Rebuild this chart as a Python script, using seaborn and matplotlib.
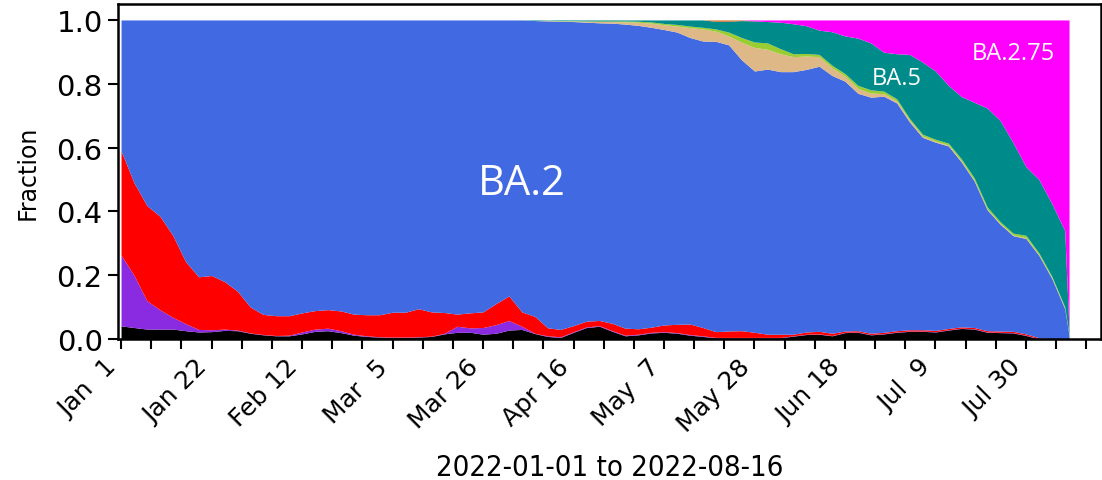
import numpy as np
import pandas as pd
import matplotlib
matplotlib.use("Agg")
import matplotlib.pyplot as plt
import seaborn as sns

sns.set_theme(style="ticks")
plt.rcParams["font.family"] = ["DejaVu Sans"]
plt.rcParams["text.color"] = "black"
plt.rcParams["axes.labelcolor"] = "black"
plt.rcParams["xtick.color"] = "black"
plt.rcParams["ytick.color"] = "black"

# ---------------- data (fractions) ----------------
start = pd.Timestamp("2022-01-01")
day_offsets = list(range(0, 220, 3)) + [220]

black = [0.041, 0.036, 0.031, 0.031, 0.031, 0.026, 0.022, 0.023, 0.027, 0.026,
         0.018, 0.013, 0.010, 0.010, 0.016, 0.024, 0.026, 0.020, 0.012, 0.008,
         0.006, 0.005, 0.005, 0.006, 0.008, 0.016, 0.021, 0.021, 0.015, 0.018,
         0.028, 0.030, 0.017, 0.008, 0.005, 0.021, 0.036, 0.040, 0.024, 0.010,
         0.013, 0.019, 0.021, 0.018, 0.012, 0.008, 0.004, 0.004, 0.004, 0.004,
         0.004, 0.004, 0.009, 0.014, 0.015, 0.010, 0.020, 0.021, 0.013, 0.016,
         0.021, 0.024, 0.024, 0.022, 0.028, 0.033, 0.031, 0.021, 0.020, 0.019,
         0.011, 0.000, 0.000, 0.000, 0.000]

purple = [0.222, 0.164, 0.089, 0.061, 0.037, 0.022, 0.008, 0.006, 0.004, 0.002,
          0.001, 0.001, 0.001, 0.002, 0.006, 0.007, 0.008, 0.006, 0.003, 0.002,
          0.001, 0.001, 0.001, 0.001, 0.001, 0.002, 0.019, 0.014, 0.021, 0.027,
          0.030, 0.010, 0.001, 0.002, 0.002, 0.002, 0.002, 0.002, 0.002, 0.002,
          0.002, 0.002, 0.002, 0.002, 0.002, 0.002, 0.001, 0.001, 0.001, 0.001,
          0.001, 0.001, 0.001, 0.001, 0.001, 0.001, 0.001, 0.001, 0.001, 0.001,
          0.001, 0.001, 0.001, 0.001, 0.001, 0.001, 0.001, 0.001, 0.001, 0.001,
          0.001, 0.001, 0.000, 0.000, 0.000]

red = [0.327, 0.290, 0.298, 0.293, 0.257, 0.194, 0.165, 0.170, 0.149, 0.122,
       0.081, 0.063, 0.062, 0.061, 0.060, 0.058, 0.058, 0.062, 0.063, 0.066,
       0.069, 0.078, 0.078, 0.088, 0.076, 0.065, 0.038, 0.047, 0.049, 0.066,
       0.077, 0.045, 0.053, 0.025, 0.023, 0.019, 0.018, 0.016, 0.023, 0.022,
       0.017, 0.016, 0.021, 0.026, 0.033, 0.026, 0.018, 0.020, 0.021, 0.016,
       0.010, 0.010, 0.005, 0.007, 0.008, 0.007, 0.004, 0.004, 0.004, 0.004,
       0.004, 0.004, 0.004, 0.004, 0.004, 0.004, 0.004, 0.004, 0.004, 0.004,
       0.004, 0.003, 0.000, 0.000, 0.000]

ba2 = [0.410, 0.510, 0.582, 0.615, 0.675, 0.758, 0.805, 0.801, 0.820, 0.850,
       0.900, 0.923, 0.927, 0.927, 0.918, 0.911, 0.908, 0.912, 0.922, 0.924,
       0.924, 0.916, 0.916, 0.905, 0.915, 0.917, 0.922, 0.918, 0.915, 0.889,
       0.865, 0.915, 0.927, 0.962, 0.966, 0.953, 0.937, 0.933, 0.941, 0.953,
       0.951, 0.940, 0.926, 0.916, 0.898, 0.898, 0.910, 0.897, 0.849, 0.819,
       0.831, 0.823, 0.823, 0.823, 0.831, 0.808, 0.783, 0.744, 0.740, 0.740,
       0.714, 0.651, 0.603, 0.590, 0.572, 0.517, 0.459, 0.379, 0.335, 0.300,
       0.299, 0.258, 0.190, 0.095, 0.012]

tan = [0.0] * 30 + [
       0.000, 0.000, 0.000, 0.001, 0.001, 0.002, 0.003, 0.004, 0.005, 0.007,
       0.010, 0.013, 0.015, 0.019, 0.031, 0.038, 0.032, 0.028, 0.055, 0.074,
       0.062, 0.056, 0.047, 0.042, 0.030, 0.024, 0.016, 0.015, 0.013, 0.008,
       0.006, 0.005, 0.004, 0.003, 0.003, 0.003, 0.002, 0.002, 0.002, 0.002,
       0.002, 0.002, 0.002, 0.002, 0.000]

yellowgreen = [0.0] * 30 + [
       0.000, 0.000, 0.000, 0.001, 0.001, 0.001, 0.001, 0.002, 0.002, 0.003,
       0.003, 0.004, 0.004, 0.005, 0.005, 0.005, 0.007, 0.012, 0.015, 0.017,
       0.020, 0.016, 0.009, 0.008, 0.007, 0.008, 0.008, 0.010, 0.010, 0.008,
       0.007, 0.006, 0.006, 0.006, 0.006, 0.007, 0.008, 0.007, 0.006, 0.006,
       0.008, 0.006, 0.005, 0.004, 0.003]

ba5 = [0.0] * 30 + [
       0.000, 0.000, 0.002, 0.001, 0.002, 0.002, 0.003, 0.003, 0.003, 0.003,
       0.004, 0.006, 0.011, 0.014, 0.019, 0.023, 0.024, 0.034, 0.053, 0.066,
       0.067, 0.083, 0.094, 0.087, 0.076, 0.105, 0.118, 0.148, 0.147, 0.122,
       0.141, 0.201, 0.226, 0.214, 0.181, 0.195, 0.237, 0.310, 0.317, 0.284,
       0.215, 0.230, 0.228, 0.239, 0.010]

orange = [0.0] * 46 + [0.004, 0.004, 0.002] + [0.0] * 26

ba275 = [0.0] * 49 + [0.003,
         0.005, 0.007, 0.012, 0.018, 0.032, 0.037, 0.050, 0.057, 0.072, 0.101,
         0.106, 0.108, 0.132, 0.160, 0.205, 0.240, 0.258, 0.276, 0.315, 0.384,
         0.460, 0.500, 0.575, 0.660, 0.975]

layer_colors = ["#000000", "#8A2BE2", "#FF0000", "#4169E1", "#DEB887",
                "#9ACD32", "#008B8B", "#D2691E", "#FF00FF"]

tick_labels = ["Jan  1", "", "", "Jan 22", "", "", "Feb 12", "", "", "Mar  5",
               "", "", "Mar 26", "", "", "Apr 16", "", "", "May  7", "", "",
               "May 28", "", "", "Jun 18", "", "", "Jul  9", "", "", "Jul 30",
               "", ""]
y_ticks = [0.0, 0.2, 0.4, 0.6, 0.8, 1.0]
variant_labels = [("BA.2", 93, 0.49, 30), ("BA.5", 180, 0.818, 17),
                  ("BA.2.75", 207, 0.897, 17)]

# ---------------- figure ----------------
dates = start + pd.to_timedelta(day_offsets, unit="D")

fig = plt.figure(figsize=(11.02, 4.81), dpi=100)
ax = fig.add_axes([118 / 1102, 1 - 340 / 481, (1101 - 118) / 1102, (340 - 5) / 481])
ax.set_facecolor("white")

ax.stackplot(dates, black, purple, red, ba2, tan, yellowgreen, ba5, orange, ba275,
             colors=layer_colors, linewidth=0, antialiased=True)

ax.set_ylim(0, 1.05)
ax.set_xlim(start - pd.Timedelta(hours=17), pd.Timestamp("2022-08-16 10:00"))

xt = pd.date_range("2022-01-01", periods=len(tick_labels), freq="7D")
ax.set_xticks(xt)
ax.set_xticklabels(tick_labels, rotation=45, ha="right", fontsize=18)
ax.set_yticks(y_ticks)
ax.set_yticklabels([f"{v:.1f}" for v in y_ticks], fontsize=21)
ax.tick_params(axis="both", which="major", length=7, width=1.5, colors="black",
               direction="out", pad=4)

for sp in ax.spines.values():
    sp.set_color("black")
    sp.set_linewidth(1.8)

ax.set_ylabel("Fraction", fontsize=17, labelpad=12, color="black")
ax.set_xlabel("2022-01-01 to 2022-08-16", fontsize=21, fontstretch="condensed",
              labelpad=12, color="black")

for txt, d, yv, fs in variant_labels:
    ax.text(start + pd.Timedelta(days=d), yv, txt, color="white", fontsize=fs,
            ha="center", va="center", family=["Open Sans", "DejaVu Sans"])

fig.savefig("out.png", dpi=100)
